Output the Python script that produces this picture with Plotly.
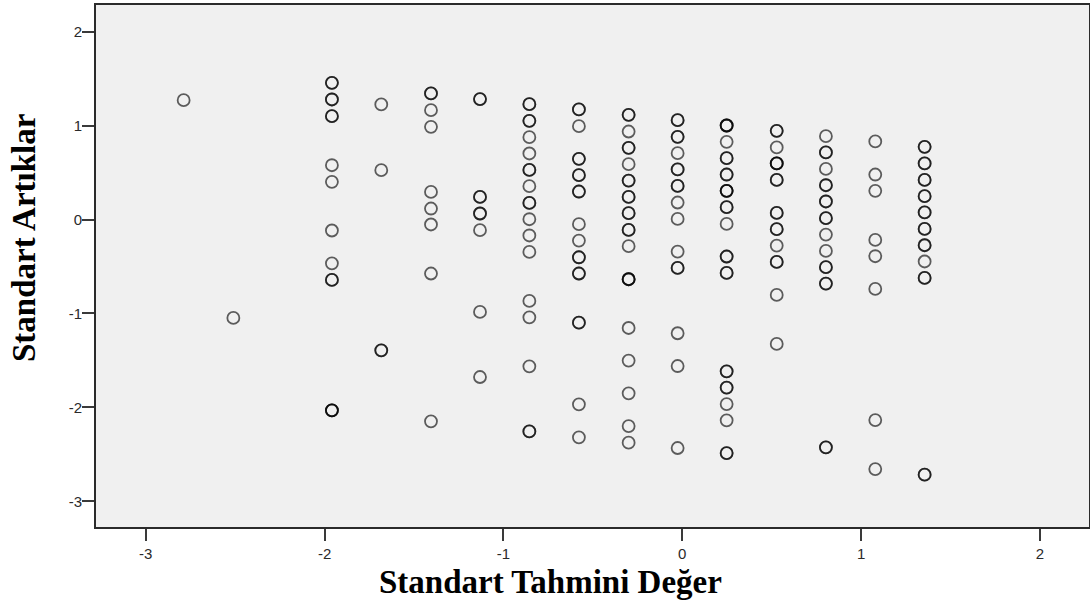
import plotly.graph_objects as go

# Standardized predicted value for each column of cases
pred_cols = [-2.788, -2.510, -1.959, -1.683, -1.405, -1.131, -0.855, -0.578,
             -0.300, -0.026, 0.248, 0.528, 0.803, 1.079, 1.355]

# Standardized residuals per column (values repeated where several cases overlap)
res_c01 = [1.271]
res_c02 = [-1.048]
res_c03 = [1.455, 1.455, 1.278, 1.278, 1.100, 1.100, 0.578, 0.401, -0.117, -0.466,
           -0.643, -0.643, -2.032, -2.032, -2.032]
res_c04 = [1.225, 0.525, -1.393, -1.393]
res_c05 = [1.342, 1.342, 1.164, 0.987, 0.294, 0.117, -0.053, -0.575, -2.149]
res_c06 = [1.282, 1.282, 0.241, 0.241, 0.064, 0.064, -0.114, -0.984, -1.677]
res_c07 = [1.228, 1.228, 1.051, 1.051, 0.877, 0.703, 0.528, 0.528, 0.355, 0.177, 0.177,
           0.003, -0.170, -0.345, -0.867, -1.041, -1.563, -2.256, -2.256]
res_c08 = [1.172, 1.172, 0.994, 0.646, 0.646, 0.472, 0.472, 0.298, 0.298, -0.050,
           -0.224, -0.402, -0.402, -0.575, -0.575, -1.098, -1.098, -1.968, -2.319]
res_c09 = [1.115, 1.115, 0.937, 0.763, 0.763, 0.589, 0.415, 0.415, 0.241, 0.241,
           0.067, 0.067, -0.111, -0.111, -0.284, -0.636, -0.636, -0.636, -1.155,
           -1.502, -1.851, -2.199, -2.376]
res_c10 = [1.058, 1.058, 0.880, 0.880, 0.706, 0.533, 0.533, 0.358, 0.358, 0.181,
           0.006, -0.341, -0.516, -0.516, -1.211, -1.560, -2.433]
res_c11 = [1.001, 1.001, 1.001, 0.827, 0.653, 0.653, 0.479, 0.479, 0.305, 0.305, 0.305,
           0.131, 0.131, -0.047, -0.394, -0.394, -0.569, -0.569, -1.616, -1.616,
           -1.790, -1.790, -1.965, -2.138, -2.487, -2.487]
res_c12 = [0.944, 0.944, 0.767, 0.597, 0.597, 0.597, 0.422, 0.422, 0.070, 0.070,
           -0.103, -0.103, -0.277, -0.452, -0.452, -0.803, -1.325]
res_c13 = [0.887, 0.714, 0.714, 0.539, 0.365, 0.365, 0.192, 0.192, 0.014, 0.014,
           -0.160, -0.334, -0.508, -0.508, -0.682, -0.682, -2.426, -2.426]
res_c14 = [0.831, 0.479, 0.305, -0.217, -0.391, -0.739, -2.135, -2.657]
res_c15 = [0.774, 0.774, 0.597, 0.597, 0.422, 0.422, 0.248, 0.248, 0.075, 0.075,
           -0.100, -0.100, -0.274, -0.274, -0.447, -0.622, -0.622, -2.717, -2.717]

residual_cols = [res_c01, res_c02, res_c03, res_c04, res_c05, res_c06, res_c07, res_c08,
                 res_c09, res_c10, res_c11, res_c12, res_c13, res_c14, res_c15]

tick_vals = [-3, -2, -1, 0, 1, 2]
tick_text = ["-3", "-2", "-1", "0", "1", "2"]
x_title = "Standart Tahmini Değer"
y_title = "Standart Artıklar"

xs, ys = [], []
for xv, col in zip(pred_cols, residual_cols):
    for yv in col:
        xs.append(xv)
        ys.append(yv)

W, H = 1090, 603
L, R, T, B = 96, 1, 5, 76

fig = go.Figure()
fig.add_trace(go.Scatter(
    x=xs, y=ys, mode="markers",
    marker=dict(symbol="circle-open", size=12, color="rgba(0,0,0,0.62)",
                line=dict(width=1.8, color="rgba(0,0,0,0.62)")),
    hoverinfo="x+y", showlegend=False,
))

axis_common = dict(
    showgrid=False, zeroline=False, showline=True, mirror=True,
    linecolor="#2b2b2b", linewidth=2, automargin=False,
    ticks="outside", ticklen=12, tickwidth=2, tickcolor="#3a3a3a",
    tickfont=dict(family="Liberation Sans, Arial, sans-serif", size=15, color="#2a2a2a"),
    tickvals=tick_vals, ticktext=tick_text,
)

title_font = dict(family="Liberation Serif, Times New Roman, serif", size=33, color="black")

fig.update_layout(
    width=W, height=H,
    margin=dict(l=L, r=R, t=T, b=B, pad=0),
    paper_bgcolor="white", plot_bgcolor="#f0f0f0",
    xaxis=dict(range=[-3.278, 2.274], **axis_common),
    yaxis=dict(range=[-3.274, 2.284], ticklabelstandoff=-3, **axis_common),
    annotations=[
        dict(text="<b>" + x_title + "</b>", xref="paper", yref="paper",
             x=(550 - L) / (W - L - R), y=-(582 - (H - B)) / (H - T - B),
             xanchor="center", yanchor="middle", showarrow=False, font=title_font),
        dict(text="<b>" + y_title + "</b>", xref="paper", yref="paper",
             x=-(L - 24) / (W - L - R), y=((H - B) - 238) / (H - T - B),
             xanchor="center", yanchor="middle", textangle=-90, showarrow=False,
             font=title_font),
    ],
)

fig.write_html("out.html", config={"displayModeBar": False},
               post_script="document.body.style.margin='0';")
